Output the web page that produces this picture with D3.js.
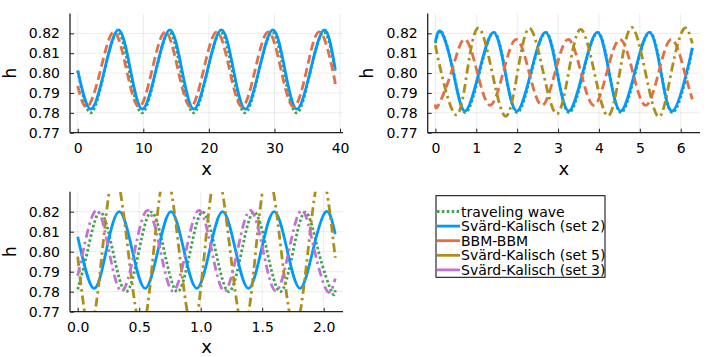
<!DOCTYPE html>
<html><head><meta charset="utf-8">
<script src="https://cdn.jsdelivr.net/npm/d3@7"></script>
<style>
body{margin:0;background:#fff}
text{font-family:"DejaVu Sans",sans-serif;fill:#000}
</style>
</head><body>
<svg id="c" width="714" height="357"></svg>
<script>
// ---------------- DATA ----------------
const seriesNames = ["traveling wave","Svärd-Kalisch (set 2)","BBM-BBM","Svärd-Kalisch (set 5)","Svärd-Kalisch (set 3)"];
const yTicks = [0.77,0.78,0.79,0.80,0.81,0.82];
const xTicksA = [0,10,20,30,40];
const xTicksB = [0,1,2,3,4,5,6];
const xTicksC = [0.0,0.5,1.0,1.5,2.0];

// Panel A (top left)
const A_wave_x = [0,1.95,4.03,6.10,7.90,9.80,11.88,13.95,15.75,17.66,19.73,21.81,23.61,25.51,27.59,29.66,31.46,33.37,35.44,37.52,39.27];
const A_wave_h = [0.8012,0.7800,0.8003,0.8205,0.8003,0.7800,0.8003,0.8205,0.8003,0.7800,0.8003,0.8205,0.8003,0.7800,0.8003,0.8205,0.8003,0.7800,0.8003,0.8205,0.8012];
const A_sk2_x = [0,2.00,4.10,6.20,8.03,9.85,11.95,14.05,15.88,17.71,19.81,21.91,23.74,25.56,27.66,29.76,31.59,33.42,35.52,37.62,39.27];
const A_sk2_h = [0.8013,0.7819,0.8018,0.8218,0.8018,0.7819,0.8018,0.8218,0.8018,0.7819,0.8018,0.8218,0.8018,0.7819,0.8018,0.8218,0.8018,0.7819,0.8018,0.8218,0.8020];
const A_bbm_x = [0,1.50,3.50,5.50,7.43,9.35,11.35,13.35,15.28,17.21,19.21,21.21,23.14,25.06,27.06,29.06,30.99,32.92,34.92,36.92,38.85,39.27];
const A_bbm_h = [0.7935,0.7830,0.8018,0.8207,0.8018,0.7830,0.8018,0.8207,0.8018,0.7830,0.8018,0.8207,0.8018,0.7830,0.8018,0.8207,0.8018,0.7830,0.8018,0.8207,0.8018,0.7945];

// Panel B (top right)
const B_wave_x = [0,0.16,0.445,0.73,1.08,1.43,1.715,2.00,2.35,2.70,2.985,3.27,3.62,3.97,4.255,4.54,4.89,5.24,5.525,5.81,6.16,6.283];
const B_wave_h = [0.8150,0.8205,0.8003,0.7801,0.8003,0.8205,0.8003,0.7801,0.8003,0.8205,0.8003,0.7801,0.8003,0.8205,0.8003,0.7801,0.8003,0.8205,0.8003,0.7801,0.8003,0.8125];
const B_sk2_x = [0,0.15,0.435,0.72,1.07,1.42,1.705,1.99,2.34,2.69,2.975,3.26,3.61,3.96,4.245,4.53,4.88,5.23,5.515,5.80,6.15,6.283];
const B_sk2_h = [0.8159,0.8205,0.8007,0.7809,0.8007,0.8205,0.8007,0.7809,0.8007,0.8205,0.8007,0.7809,0.8007,0.8205,0.8007,0.7809,0.8007,0.8205,0.8007,0.7809,0.8007,0.8128];
const B_bbm_x = [0,0.07,0.39,0.71,1.024,1.338,1.658,1.978,2.292,2.606,2.926,3.246,3.56,3.874,4.194,4.514,4.828,5.142,5.462,5.782,6.096,6.283];
const B_bbm_h = [0.7842,0.7838,0.8004,0.8170,0.8004,0.7838,0.8004,0.8170,0.8004,0.7838,0.8004,0.8170,0.8004,0.7838,0.8004,0.8170,0.8004,0.7838,0.8004,0.8170,0.8004,0.7868];
const B_sk5_x = [0,0.14,0.50,0.775,1.05,1.385,1.72,2.01,2.30,2.635,2.97,3.26,3.55,3.885,4.22,4.51,4.80,5.135,5.47,5.77,6.07,6.283];
const B_sk5_h = [0.8140,0.8006,0.7790,0.8006,0.8227,0.8006,0.7783,0.8006,0.8225,0.8006,0.7795,0.8006,0.8220,0.8006,0.7785,0.8006,0.8230,0.8006,0.7780,0.8006,0.8222,0.8150];

// Panel C (bottom left)
const C_wave_x = [0,0.078,0.18,0.287,0.393,0.496,0.598,0.705,0.811,0.914,1.016,1.123,1.229,1.332,1.434,1.541,1.647,1.750,1.852,1.959,2.065,2.094];
const C_wave_h = [0.7812,0.7999,0.8198,0.7999,0.7800,0.7999,0.8198,0.7999,0.7800,0.7999,0.8198,0.7999,0.7800,0.7999,0.8198,0.7999,0.7800,0.7999,0.8198,0.7999,0.7800,0.7808];
const C_sk2_x = [0,0.128,0.233,0.338,0.443,0.548,0.653,0.758,0.863,0.968,1.073,1.178,1.283,1.388,1.493,1.598,1.703,1.808,1.913,2.018,2.094];
const C_sk2_h = [0.8075,0.7817,0.8008,0.8200,0.8008,0.7817,0.8008,0.8200,0.8008,0.7817,0.8008,0.8200,0.8008,0.7817,0.8008,0.8200,0.8008,0.7817,0.8008,0.8200,0.8088];
const C_sk5_x = [0,0.100,0.2000,0.30,0.41,0.52,0.6175,0.715,0.825,0.935,1.0325,1.13,1.24,1.35,1.4475,1.545,1.655,1.765,1.8725,1.98,2.094];
const C_sk5_h = [0.7975,0.7614,0.8004,0.8394,0.8004,0.7614,0.8004,0.8394,0.8004,0.7614,0.8004,0.8394,0.8004,0.7614,0.8004,0.8394,0.8004,0.7614,0.8004,0.8394,0.7970];
const C_sk3_x = [0,0.045,0.15,0.254,0.357,0.463,0.568,0.672,0.775,0.881,0.986,1.090,1.193,1.299,1.404,1.508,1.611,1.717,1.822,1.926,2.029,2.094];
const C_sk3_h = [0.7880,0.8005,0.8207,0.8005,0.7803,0.8005,0.8207,0.8005,0.7803,0.8005,0.8207,0.8005,0.7803,0.8005,0.8207,0.8005,0.7803,0.8005,0.8207,0.8005,0.7803,0.7865];

// ---------------- STYLE ----------------
const styles = {
  "traveling wave":        {color:"#3EA44E", dash:"2.5,2.4"},
  "Svärd-Kalisch (set 2)": {color:"#009AFA", dash:null},
  "BBM-BBM":               {color:"#E36F47", dash:"9,4.5"},
  "Svärd-Kalisch (set 5)": {color:"#AC8E18", dash:"9,4,2.5,4"},
  "Svärd-Kalisch (set 3)": {color:"#C371D2", dash:"9,4,2.5,4"}
};
const pack = (xs, hs) => xs.map((x,i)=>({x:x, h:hs[i]}));

const panels = [
  {id:"A", box:{l:70,r:343,t:13.5,b:132.7}, xdom:[-1.178,40.45], xticks:xTicksA, xfmt:d3.format("d"),
   xlab:{y:175}, ylabX:16,
   series:[[seriesNames[0],pack(A_wave_x,A_wave_h)],[seriesNames[1],pack(A_sk2_x,A_sk2_h)],[seriesNames[2],pack(A_bbm_x,A_bbm_h)]]},
  {id:"B", box:{l:427.7,r:700,t:13.5,b:132.7}, xdom:[-0.1885,6.4717], xticks:xTicksB, xfmt:d3.format("d"),
   xlab:{y:175}, ylabX:373,
   series:[[seriesNames[0],pack(B_wave_x,B_wave_h)],[seriesNames[1],pack(B_sk2_x,B_sk2_h)],[seriesNames[2],pack(B_bbm_x,B_bbm_h)],[seriesNames[3],pack(B_sk5_x,B_sk5_h)]]},
  {id:"C", box:{l:70,r:343,t:191.7,b:311.7}, xdom:[-0.0628,2.1572], xticks:xTicksC, xfmt:d3.format(".1f"),
   xlab:{y:353}, ylabX:16,
   series:[[seriesNames[0],pack(C_wave_x,C_wave_h)],[seriesNames[1],pack(C_sk2_x,C_sk2_h)],[seriesNames[3],pack(C_sk5_x,C_sk5_h)],[seriesNames[4],pack(C_sk3_x,C_sk3_h)]]}
];

const svg = d3.select("#c");
const defs = svg.append("defs");

panels.forEach(p => {
  const b = p.box;
  const x = d3.scaleLinear().domain(p.xdom).range([b.l,b.r]);
  const y = d3.scaleLinear().domain([0.77,0.83]).range([b.b,b.t]);
  const g = svg.append("g");

  // grid
  g.append("g").selectAll("line").data(p.xticks).join("line")
    .attr("x1",d=>x(d)).attr("x2",d=>x(d)).attr("y1",b.t).attr("y2",b.b)
    .attr("stroke","#000").attr("stroke-opacity",0.1).attr("stroke-width",0.8);
  g.append("g").selectAll("line").data(yTicks).join("line")
    .attr("y1",d=>y(d)).attr("y2",d=>y(d)).attr("x1",b.l).attr("x2",b.r)
    .attr("stroke","#000").attr("stroke-opacity",0.1).attr("stroke-width",0.8);

  // clip
  defs.append("clipPath").attr("id","clip"+p.id).append("rect")
    .attr("x",b.l).attr("y",b.t).attr("width",b.r-b.l).attr("height",b.b-b.t);

  const line = d3.line().x(d=>x(d.x)).y(d=>y(d.h)).curve(d3.curveNatural);
  const lg = g.append("g").attr("clip-path","url(#clip"+p.id+")");
  p.series.forEach(([name,data]) => {
    const s = styles[name];
    lg.append("path").datum(data).attr("d",line)
      .attr("fill","none").attr("stroke",s.color).attr("stroke-width",2.8)
      .attr("stroke-dasharray",s.dash).attr("stroke-linejoin","round");
  });

  // axes
  const xAxis = d3.axisBottom(x).tickValues(p.xticks).tickFormat(p.xfmt).tickSizeInner(-4).tickSizeOuter(0).tickPadding(10);
  const yAxis = d3.axisLeft(y).tickValues(yTicks).tickFormat(d3.format(".2f")).tickSizeInner(-4).tickSizeOuter(0).tickPadding(10);
  const gx = g.append("g").attr("transform",`translate(0,${b.b})`).call(xAxis);
  const gy = g.append("g").attr("transform",`translate(${b.l},0)`).call(yAxis);
  [gx,gy].forEach(a=>{
    a.select(".domain").attr("stroke","#222").attr("stroke-width",1.3);
    a.selectAll(".tick line").attr("stroke","#222").attr("stroke-width",1);
    a.selectAll("text").style("font-family","DejaVu Sans").style("font-size","14px").attr("fill","#000");
  });
  gx.select(".domain").attr("d",`M${b.l},0H${b.r}`);
  gy.select(".domain").attr("d",`M0,${b.b}V${b.t}`);

  // labels
  g.append("text").attr("x",(b.l+b.r)/2).attr("y",p.xlab.y).attr("text-anchor","middle")
    .style("font-size","18px").text("x");
  g.append("text").attr("transform",`translate(${p.ylabX},${(b.t+b.b)/2}) rotate(-90)`)
    .attr("text-anchor","middle").style("font-size","17px").text("h");
});

// legend
const leg = svg.append("g");
leg.append("rect").attr("x",436).attr("y",195.7).attr("width",169).attr("height",81.6)
  .attr("fill","#fff").attr("stroke","#000").attr("stroke-width",1);
seriesNames.forEach((n,i)=>{
  const yy = 211.5 + i*14.6;
  const s = styles[n];
  leg.append("line").attr("x1",437).attr("x2",460).attr("y1",yy).attr("y2",yy)
    .attr("stroke",s.color).attr("stroke-width",2.8)
    .attr("stroke-dasharray", i===0 ? s.dash : null);
  leg.append("text").attr("x",461).attr("y",yy).attr("dy","0.36em")
    .style("font-size","14px").text(n);
});
</script>
</body></html>
